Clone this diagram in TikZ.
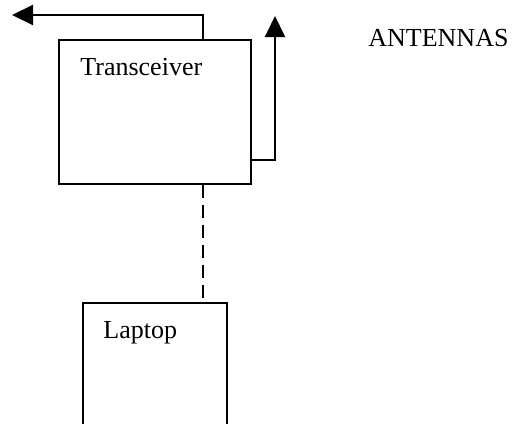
\documentclass[tikz,border=0pt]{standalone}
\usepackage{fontspec}
\setmainfont{Liberation Serif}
\usetikzlibrary{arrows.meta}

\begin{document}
\begin{tikzpicture}[
      x=0.5pt, y=-0.5pt,
      unit/.style={draw, line width=1pt, rectangle, minimum width=96pt, minimum height=72pt, inner sep=0pt},
      caption/.style={anchor=base west, inner sep=0pt, font=\fontsize{13}{15}\selectfont},
      antenna/.style={-{Triangle[length=10.5pt, width=10pt]}, line width=1pt},
      link/.style={line width=1pt, dash pattern=on 6.5pt off 3.5pt}
    ]
      \clip (0,0) rectangle (512,423);

      \node[unit] (trx) at (155,112) {};
      \node[unit, minimum width=72pt, minimum height=80pt] (laptop) at (155,383) {};

      \node[caption] (trxlabel) at (80,75) {Transceiver};
      \node[caption] (laptoplabel) at (103,338) {Laptop};
      \node[caption] (antlabel) at (368,46) {ANTENNAS};

      \coordinate (lefttip) at (12,15);
      \coordinate (righttip) at (275,16);

      \draw[antenna] ([xshift=24pt]trx.north) |- (lefttip);
      \draw[antenna] ([yshift=-24pt]trx.east) -| (righttip);
      \draw[link] ([xshift=24pt]trx.south) -- ([xshift=24pt]laptop.north);
    \end{tikzpicture}
\end{document}
